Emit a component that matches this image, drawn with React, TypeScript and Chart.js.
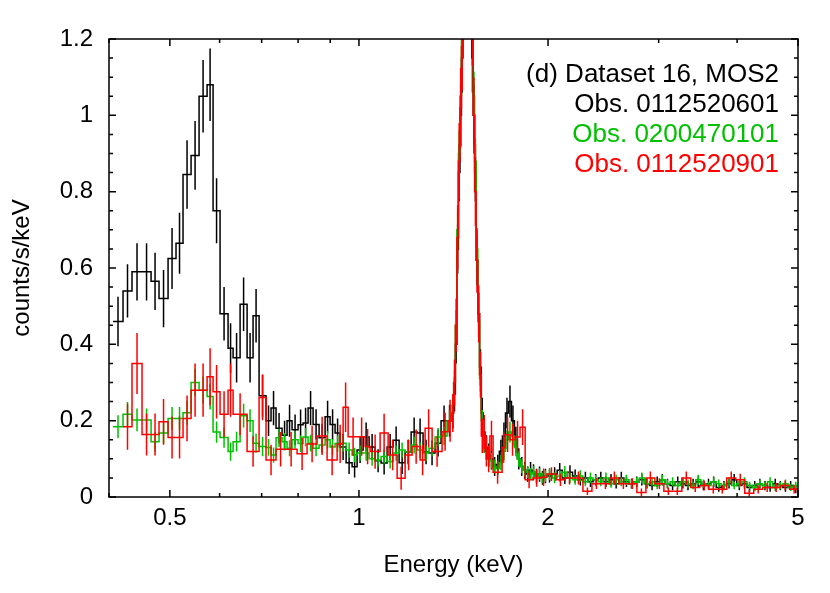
import React, { useEffect, useRef } from 'react';
import { Chart, registerables } from 'chart.js';

Chart.register(...registerables);

const FONT = '"Liberation Sans", Arial, Helvetica, sans-serif';

// Bin edges (keV) shared by the black and green spectra
const fineEdges = [
  0.4059, 0.4211, 0.4352, 0.4515, 0.4667, 0.4805, 0.4967, 0.5114, 0.5247, 0.5404, 0.5565, 0.5731, 0.5858, 0.6010, 0.6189, 0.6304, 0.6468, 0.6636, 0.6783, 0.6934, 0.7113,
  0.7245, 0.7379, 0.7544, 0.7683, 0.7825, 0.8000, 0.8148, 0.8299, 0.8452, 0.8640, 0.8833, 0.8996, 0.9162, 0.9332, 0.9540, 0.9752, 0.9932, 1.0154, 1.0380, 1.0610, 1.0846, 1.1088, 1.1334, 1.1586, 1.1844, 1.2108, 1.2377, 1.2649, 1.2930, 1.3218, 1.3512, 1.3812, 1.4068,
  1.415, 1.424, 1.432, 1.440, 1.448, 1.456, 1.464, 1.472, 1.480, 1.488, 1.496, 1.504, 1.512, 1.520, 1.528, 1.537, 1.546, 1.556, 1.566, 1.577, 1.589, 1.602, 1.616,
  1.635, 1.654, 1.673, 1.692, 1.711, 1.730, 1.749, 1.768, 1.787, 1.806, 1.826, 1.846, 1.866, 1.886, 1.907, 1.928, 1.949, 1.970, 1.992,
  2.030, 2.068, 2.107, 2.147, 2.188, 2.230, 2.272, 2.315, 2.359, 2.404, 2.450, 2.496, 2.543, 2.592, 2.641, 2.691, 2.742, 2.794, 2.847, 2.901, 2.956, 3.012, 3.069, 3.128, 3.187, 3.248, 3.309, 3.372, 3.436, 3.502, 3.568, 3.636, 3.705, 3.775, 3.847, 3.920, 3.995, 4.070, 4.148, 4.226, 4.307, 4.388, 4.472, 4.557, 4.643, 4.731, 4.821, 4.913, 5.006,
];

// Obs. 0112520601 (black)
const blackValues = [
  0.46, 0.54, 0.59, 0.59, 0.565, 0.52, 0.625, 0.665, 0.845, 0.895, 1.05, 1.08, 0.75, 0.48, 0.39, 0.365, 0.505, 0.365, 0.475, 0.265,
  0.2, 0.233, 0.18, 0.162, 0.2, 0.176, 0.189, 0.194, 0.233, 0.19, 0.155, 0.21, 0.19, 0.168, 0.131, 0.09, 0.079, 0.123, 0.157, 0.131, 0.095, 0.089, 0.131, 0.149, 0.09, 0.118, 0.17, 0.168, 0.118, 0.115, 0.141, 0.2, 0.2,
  0.22, 0.27, 0.4, 0.65, 0.85, 1.0, 1.15, 1.6, 2.2, 2.6, 2.6, 2.2, 1.6, 1.15, 1.0, 0.85, 0.62, 0.48, 0.34, 0.22, 0.15, 0.13, 0.11,
  0.1, 0.08, 0.085, 0.12, 0.16, 0.22, 0.25, 0.2, 0.15, 0.1, 0.08, 0.07, 0.06, 0.07, 0.065, 0.055, 0.06, 0.05, 0.055,
  0.055, 0.06, 0.07, 0.05, 0.065, 0.055, 0.045, 0.05, 0.04, 0.045, 0.05, 0.04, 0.045, 0.035, 0.05, 0.04, 0.035, 0.04, 0.045, 0.035, 0.03, 0.04, 0.045, 0.035, 0.03, 0.04, 0.035, 0.03, 0.035, 0.04, 0.03, 0.035, 0.04, 0.025, 0.03, 0.035, 0.045, 0.03, 0.035, 0.025, 0.03, 0.035, 0.03, 0.025, 0.035, 0.03, 0.025, 0.03, 0.02,
];
const blackErrors = [
  0.065, 0.07, 0.075, 0.075, 0.075, 0.075, 0.08, 0.08, 0.09, 0.09, 0.095, 0.095, 0.085, 0.07, 0.065, 0.065, 0.07, 0.065, 0.07, 0.055,
  0.04, 0.045, 0.04, 0.038, 0.042, 0.04, 0.04, 0.04, 0.045, 0.04, 0.036, 0.042, 0.04, 0.038, 0.034, 0.03, 0.028, 0.034, 0.038, 0.034, 0.03, 0.03, 0.034, 0.036, 0.03, 0.032, 0.038, 0.038, 0.032, 0.032, 0.035, 0.04, 0.042,
  0.04, 0.045, 0.05, 0.065, 0.075, 0.08, 0.09, 0.1, 0.12, 0.13, 0.13, 0.12, 0.1, 0.09, 0.08, 0.075, 0.065, 0.055, 0.048, 0.04, 0.034, 0.032, 0.03,
  0.028, 0.025, 0.026, 0.03, 0.035, 0.04, 0.042, 0.04, 0.034, 0.028, 0.025, 0.022, 0.02, 0.022, 0.021, 0.019, 0.02, 0.018, 0.019,
  0.017, 0.018, 0.019, 0.016, 0.018, 0.017, 0.015, 0.016, 0.014, 0.015, 0.016, 0.014, 0.015, 0.013, 0.016, 0.014, 0.013, 0.014, 0.015, 0.013, 0.012, 0.014, 0.015, 0.013, 0.012, 0.014, 0.013, 0.012, 0.013, 0.014, 0.012, 0.013, 0.014, 0.011, 0.012, 0.013, 0.015, 0.012, 0.013, 0.011, 0.012, 0.013, 0.012, 0.011, 0.013, 0.012, 0.011, 0.012, 0.01,
];

// Obs. 0200470101 (green)
const greenValues = [
  0.184, 0.217, 0.202, 0.202, 0.145, 0.168, 0.206, 0.206, 0.221, 0.30, 0.28, 0.263, 0.17, 0.156, 0.119, 0.145, 0.213, 0.2, 0.141, 0.132,
  0.13, 0.11, 0.155, 0.145, 0.128, 0.15, 0.14, 0.157, 0.141, 0.128, 0.136, 0.15, 0.131, 0.14, 0.141, 0.123, 0.11, 0.115, 0.115, 0.1, 0.097, 0.106, 0.093, 0.115, 0.123, 0.118, 0.136, 0.123, 0.115, 0.128, 0.157, 0.16, 0.2,
  0.24, 0.3, 0.45, 0.7, 0.9, 1.05, 1.2, 1.7, 2.3, 2.7, 2.7, 2.3, 1.7, 1.2, 1.05, 0.88, 0.65, 0.46, 0.31, 0.2, 0.14, 0.12, 0.1,
  0.095, 0.08, 0.075, 0.09, 0.12, 0.15, 0.17, 0.16, 0.13, 0.1, 0.08, 0.07, 0.065, 0.06, 0.065, 0.055, 0.06, 0.05, 0.055,
  0.06, 0.05, 0.055, 0.065, 0.05, 0.045, 0.055, 0.04, 0.05, 0.045, 0.04, 0.05, 0.035, 0.045, 0.04, 0.045, 0.035, 0.04, 0.05, 0.035, 0.04, 0.03, 0.045, 0.035, 0.04, 0.03, 0.04, 0.035, 0.03, 0.045, 0.035, 0.03, 0.04, 0.035, 0.03, 0.04, 0.03, 0.035, 0.04, 0.03, 0.025, 0.035, 0.03, 0.04, 0.025, 0.03, 0.035, 0.025, 0.03,
];
const greenErrors = [
  0.03, 0.032, 0.03, 0.03, 0.026, 0.028, 0.03, 0.03, 0.032, 0.036, 0.035, 0.034, 0.028, 0.027, 0.024, 0.026, 0.031, 0.03, 0.025, 0.025,
  0.022, 0.02, 0.024, 0.023, 0.021, 0.023, 0.022, 0.024, 0.022, 0.021, 0.022, 0.023, 0.021, 0.022, 0.022, 0.02, 0.019, 0.02, 0.02, 0.018, 0.018, 0.019, 0.018, 0.02, 0.02, 0.02, 0.022, 0.02, 0.02, 0.021, 0.024, 0.024, 0.027,
  0.03, 0.035, 0.04, 0.05, 0.06, 0.065, 0.07, 0.085, 0.1, 0.105, 0.105, 0.1, 0.085, 0.07, 0.065, 0.06, 0.05, 0.043, 0.035, 0.028, 0.024, 0.022, 0.02,
  0.02, 0.018, 0.018, 0.02, 0.023, 0.025, 0.027, 0.026, 0.023, 0.02, 0.018, 0.017, 0.016, 0.016, 0.016, 0.015, 0.016, 0.014, 0.015,
  0.016, 0.014, 0.015, 0.016, 0.014, 0.013, 0.015, 0.012, 0.014, 0.013, 0.012, 0.014, 0.011, 0.013, 0.012, 0.013, 0.011, 0.012, 0.014, 0.011, 0.012, 0.01, 0.013, 0.011, 0.012, 0.01, 0.012, 0.011, 0.01, 0.013, 0.011, 0.01, 0.012, 0.011, 0.01, 0.012, 0.01, 0.011, 0.012, 0.01, 0.009, 0.011, 0.01, 0.012, 0.009, 0.01, 0.011, 0.009, 0.01,
];

// Obs. 0112520901 (red), coarser binning
const redEdges = [
  0.4211, 0.4352, 0.4515, 0.4667, 0.4805, 0.4967, 0.5114, 0.5247, 0.5404, 0.5565, 0.5731, 0.5858, 0.6010, 0.6189, 0.6304, 0.6636, 0.6934, 0.7113,
  0.7379, 0.7629, 0.7971, 0.8268, 0.8578, 0.8898, 0.9231, 0.9436, 0.9610, 0.9969, 1.0228, 1.0417, 1.0806, 1.1128, 1.1502, 1.1844, 1.2152, 1.2514, 1.2745, 1.3076, 1.3562, 1.3867, 1.4068,
  1.415, 1.424, 1.432, 1.440, 1.448, 1.456, 1.464, 1.472, 1.480, 1.488, 1.496, 1.504, 1.512, 1.520, 1.528, 1.537, 1.546, 1.556, 1.566, 1.577, 1.589, 1.602, 1.616,
  1.635, 1.690, 1.709, 1.740, 1.772, 1.805, 1.839, 1.893, 1.943, 1.992,
  2.059, 2.128, 2.199, 2.273, 2.349, 2.428, 2.509, 2.593, 2.680, 2.770, 2.863, 2.959, 3.058, 3.160, 3.266, 3.375, 3.488, 3.605, 3.726, 3.851, 3.980, 4.113, 4.251, 4.393, 4.540, 4.692, 4.849, 5.012,
];
const redValues = [
  0.184, 0.35, 0.164, 0.164, 0.197, 0.156, 0.156, 0.206, 0.28, 0.28, 0.315, 0.276, 0.217, 0.28, 0.217, 0.119, 0.261,
  0.097, 0.125, 0.125, 0.113, 0.139, 0.16, 0.097, 0.139, 0.235, 0.158, 0.158, 0.132, 0.119, 0.168, 0.11, 0.049, 0.11, 0.132, 0.097, 0.18, 0.119, 0.171, 0.2,
  0.22, 0.3, 0.45, 0.68, 0.88, 1.02, 1.18, 1.65, 2.2, 2.6, 2.6, 2.2, 1.6, 1.25, 1.0, 0.8, 0.62, 0.48, 0.32, 0.16, 0.17, 0.12, 0.1,
  0.16, 0.065, 0.13, 0.163, 0.15, 0.157, 0.183, 0.045, 0.05, 0.052,
  0.06, 0.045, 0.05, 0.05, 0.015, 0.035, 0.035, 0.05, 0.035, 0.035, 0.012, 0.05, 0.035, 0.015, 0.015, 0.05, 0.025, 0.03, 0.02, 0.02, 0.05, 0.045, 0.01, 0.02, 0.025, 0.025, 0.03, 0.02,
];
const redErrors = [
  0.06, 0.08, 0.055, 0.055, 0.06, 0.055, 0.055, 0.06, 0.07, 0.07, 0.075, 0.07, 0.06, 0.07, 0.055, 0.04, 0.06,
  0.04, 0.045, 0.045, 0.042, 0.048, 0.05, 0.04, 0.05, 0.065, 0.05, 0.05, 0.046, 0.045, 0.05, 0.04, 0.03, 0.04, 0.045, 0.04, 0.05, 0.04, 0.05, 0.055,
  0.05, 0.06, 0.07, 0.085, 0.1, 0.105, 0.115, 0.14, 0.16, 0.17, 0.17, 0.16, 0.14, 0.12, 0.1, 0.09, 0.085, 0.075, 0.06, 0.045, 0.045, 0.04, 0.035,
  0.04, 0.03, 0.04, 0.045, 0.042, 0.043, 0.047, 0.022, 0.023, 0.023,
  0.018, 0.016, 0.017, 0.017, 0.01, 0.014, 0.014, 0.017, 0.014, 0.014, 0.01, 0.017, 0.014, 0.01, 0.01, 0.017, 0.012, 0.013, 0.011, 0.011, 0.017, 0.016, 0.009, 0.011, 0.012, 0.012, 0.013, 0.011,
];

const xMajorTicks = [0.5, 1, 2, 5];
const xMinorTicks = [0.4, 0.6, 0.7, 0.8, 0.9, 3, 4];
const yMajorTicks = [0, 0.2, 0.4, 0.6, 0.8, 1, 1.2];
const yMinorTicks = [0.05, 0.1, 0.15, 0.25, 0.3, 0.35, 0.45, 0.5, 0.55, 0.65, 0.7, 0.75, 0.85, 0.9, 0.95, 1.05, 1.1, 1.15];

const legendLines = [
  { text: '(d) Dataset 16, MOS2', color: '#000000' },
  { text: 'Obs. 0112520601', color: '#000000' },
  { text: 'Obs. 0200470101', color: '#00c000' },
  { text: 'Obs. 0112520901', color: '#ff0000' },
];

function stepPoints(edges: number[], values: number[]) {
  const pts: { x: number; y: number | null }[] = [];
  const n = Math.min(values.length, edges.length - 1);
  for (let i = 0; i < n; i++) {
    pts.push({ x: edges[i], y: values[i] });
    pts.push({ x: edges[i + 1], y: values[i] });
  }
  return pts;
}

function errorPoints(edges: number[], values: number[], errors: number[]) {
  const pts: { x: number; y: number | null }[] = [];
  const n = Math.min(values.length, errors.length, edges.length - 1);
  for (let i = 0; i < n; i++) {
    const c = Math.sqrt(edges[i] * edges[i + 1]);
    pts.push({ x: c, y: values[i] - errors[i] });
    pts.push({ x: c, y: values[i] + errors[i] });
    pts.push({ x: c, y: null });
  }
  return pts;
}

const framePlugin = {
  id: 'frame',
  afterDatasetsDraw(chart: any) {
    const { ctx, chartArea: a, scales } = chart;
    const xs = scales.x;
    const ys = scales.y;
    ctx.save();
    ctx.strokeStyle = '#000';
    ctx.lineWidth = 1.5;
    ctx.strokeRect(a.left, a.top, a.right - a.left, a.bottom - a.top);
    ctx.beginPath();
    const xt = (vals: number[], len: number) => {
      vals.forEach((v) => {
        const px = xs.getPixelForValue(v);
        ctx.moveTo(px, a.bottom);
        ctx.lineTo(px, a.bottom - len);
        ctx.moveTo(px, a.top);
        ctx.lineTo(px, a.top + len);
      });
    };
    const yt = (vals: number[], len: number) => {
      vals.forEach((v) => {
        const py = ys.getPixelForValue(v);
        ctx.moveTo(a.left, py);
        ctx.lineTo(a.left + len, py);
        ctx.moveTo(a.right, py);
        ctx.lineTo(a.right - len, py);
      });
    };
    xt(xMajorTicks, 7);
    xt(xMinorTicks, 4);
    yt(yMajorTicks, 7);
    yt(yMinorTicks, 4);
    ctx.stroke();

    ctx.font = `26px ${FONT}`;
    ctx.textAlign = 'right';
    ctx.textBaseline = 'middle';
    legendLines.forEach((l, i) => {
      ctx.fillStyle = l.color;
      ctx.fillText(l.text, a.right - 19, a.top + 36 + 30 * i);
    });
    ctx.restore();
  },
};

export default function App() {
  const ref = useRef<HTMLCanvasElement | null>(null);

  useEffect(() => {
    if (!ref.current) return;
    const common = {
      pointRadius: 0,
      borderWidth: 1.5,
      fill: false,
      tension: 0,
      spanGaps: false,
      borderJoinStyle: 'miter' as const,
      borderCapStyle: 'butt' as const,
    };
    const series = [
      { edges: fineEdges, values: blackValues, errors: blackErrors, color: '#000000', order: 2 },
      { edges: fineEdges, values: greenValues, errors: greenErrors, color: '#00c000', order: 1 },
      { edges: redEdges, values: redValues, errors: redErrors, color: '#ff0000', order: 0 },
    ];
    const datasets: any[] = [];
    series.forEach((s) => {
      datasets.push({ ...common, data: stepPoints(s.edges, s.values), borderColor: s.color, order: s.order });
      datasets.push({ ...common, data: errorPoints(s.edges, s.values, s.errors), borderColor: s.color, order: s.order });
    });

    const chart = new Chart(ref.current, {
      type: 'line',
      data: { datasets },
      options: {
        animation: false,
        responsive: false,
        events: [],
        layout: { padding: { top: 39, right: 32, left: 0, bottom: 0 } },
        plugins: { legend: { display: false }, tooltip: { enabled: false } },
        scales: {
          x: {
            type: 'logarithmic',
            min: 0.4,
            max: 5,
            grid: { display: false, drawTicks: false },
            border: { display: false },
            afterBuildTicks: (s: any) => {
              s.ticks = xMajorTicks.map((v) => ({ value: v }));
            },
            afterFit: (s: any) => {
              s.height = 96;
            },
            ticks: {
              autoSkip: false,
              maxRotation: 0,
              minRotation: 0,
              padding: 7,
              color: '#000',
              font: { family: FONT, size: 24 },
              callback: (v: any) => String(v),
            },
            title: {
              display: true,
              text: 'Energy (keV)',
              color: '#000',
              font: { family: FONT, size: 24 },
              padding: { top: 0, bottom: 13 },
            },
          },
          y: {
            type: 'linear',
            min: 0,
            max: 1.2,
            grid: { display: false, drawTicks: false },
            border: { display: false },
            afterBuildTicks: (s: any) => {
              s.ticks = yMajorTicks.map((v) => ({ value: v }));
            },
            afterFit: (s: any) => {
              s.width = 109;
            },
            ticks: {
              padding: 16,
              color: '#000',
              font: { family: FONT, size: 24 },
              callback: (v: any) => String(v),
            },
            title: {
              display: true,
              text: 'counts/s/keV',
              color: '#000',
              font: { family: FONT, size: 24 },
              padding: { top: 8, bottom: 0 },
            },
          },
        },
      },
      plugins: [framePlugin],
    } as any);

    return () => chart.destroy();
  }, []);

  return (
    <canvas
      ref={ref}
      width={830}
      height={593}
      style={{ position: 'absolute', left: 0, top: 0, display: 'block', background: '#fff' }}
    />
  );
}
